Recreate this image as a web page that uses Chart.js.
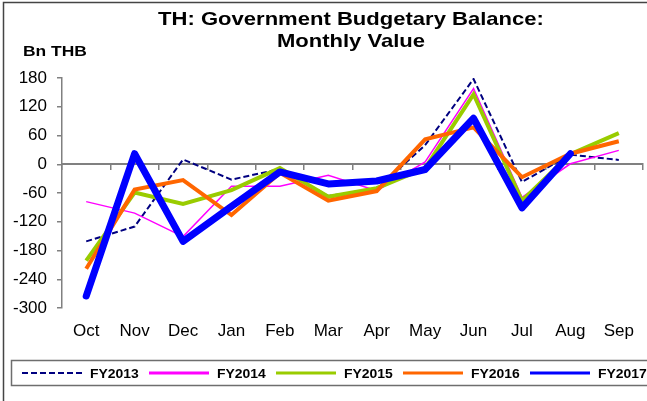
<!DOCTYPE html>
<html>
<head>
<meta charset="utf-8">
<script src="https://cdn.jsdelivr.net/npm/chart.js@4/dist/chart.umd.min.js"></script>
<style>
html,body{margin:0;padding:0;background:#fff;}
#wrap{width:647px;height:401px;position:relative;}
</style>
</head>
<body>
<div id="wrap"><canvas id="c" width="647" height="401"></canvas></div>
<script>
// months of the fiscal year (Oct..Sep)
const MONTHS = ['Oct','Nov','Dec','Jan','Feb','Mar','Apr','May','Jun','Jul','Aug','Sep'];
// Bn THB
const FY2013 = [-161,-130, 10,-32,-10,-66,-52, 40,178,-37, 20,  9];
const FY2014 = [ -78,-102,-151,-46,-46,-23,-55,  5,158,-69,  1, 29];
const FY2015 = [-201, -59,-83,-54, -8,-68,-50, -8,146,-76, 21, 65];
const FY2016 = [-218, -53,-33,-106,-18,-76,-56, 52, 77,-27, 22, 48];
const FY2017 = [-275,  22,-161,-88,-16,-41,-35,-11, 96,-91, 22,null];
const Y_MIN = -300, Y_MAX = 180, Y_STEP = 60;

const TITLE = ['TH: Government Budgetary Balance:','Monthly Value'];
const UNIT = 'Bn THB';
const FONT = 'Arial, "Liberation Sans", sans-serif';
const SX = 1.16; // the source picture is a bit wide

function stretchText(ctx, txt, x, y, align){
  ctx.save();
  ctx.translate(x, y);
  ctx.scale(SX, 1);
  ctx.textAlign = align;
  ctx.fillText(txt, 0, 0);
  ctx.restore();
}

const decor = {
  id:'decor',
  beforeDraw(chart){
    const ctx = chart.ctx;
    ctx.save();
    ctx.fillStyle = '#fff';
    ctx.fillRect(0,0,chart.width,chart.height);
    ctx.strokeStyle = '#444'; ctx.lineWidth = 1.5;
    ctx.beginPath();
    ctx.moveTo(3.5, chart.height+5); ctx.lineTo(3.5, 2.5); ctx.lineTo(chart.width+5, 2.5);
    ctx.stroke();
    ctx.fillStyle = '#000';
    ctx.textBaseline = 'alphabetic';
    ctx.font = 'bold 19px ' + FONT;
    stretchText(ctx, TITLE[0], 351, 25, 'center');
    stretchText(ctx, TITLE[1], 351, 47, 'center');
    ctx.font = 'bold 15px ' + FONT;
    stretchText(ctx, UNIT, 23, 56, 'left');
    ctx.restore();
  },
  afterDraw(chart){
    const ctx = chart.ctx;
    ctx.save();
    // legend box
    ctx.strokeStyle = '#6e6e6e'; ctx.lineWidth = 1.5;
    ctx.strokeRect(11.5, 360.5, chart.width + 10, 25);
    ctx.font = 'bold 12px ' + FONT;
    ctx.textBaseline = 'alphabetic';
    chart.data.datasets.forEach((ds, i) => {
      const x0 = 22 + i*127, y = 373;
      ctx.beginPath();
      ctx.strokeStyle = ds.borderColor;
      ctx.lineWidth = ds.legendWidth;
      ctx.setLineDash(ds.borderDash || []);
      ctx.moveTo(x0, y); ctx.lineTo(x0 + 60, y);
      ctx.stroke();
      ctx.setLineDash([]);
      ctx.fillStyle = '#000';
      stretchText(ctx, ds.label, x0 + 68, 377.5, 'left');
    });
    ctx.restore();
  }
};

const tickFont = {family: FONT, size: 17};

new Chart(document.getElementById('c'), {
  type: 'line',
  data: {
    labels: MONTHS,
    datasets: [
      {label:'FY2013', data:FY2013, borderColor:'#000080', borderWidth:2, borderDash:[6,3], legendWidth:2, order:4},
      {label:'FY2014', data:FY2014, borderColor:'#ff00ff', borderWidth:1.5, legendWidth:3, order:3},
      {label:'FY2015', data:FY2015, borderColor:'#99cc00', borderWidth:4, legendWidth:3, order:2},
      {label:'FY2016', data:FY2016, borderColor:'#ff6600', borderWidth:4, legendWidth:3, order:1},
      {label:'FY2017', data:FY2017, borderColor:'#0000ff', borderWidth:7, legendWidth:3, order:0,
       borderCapStyle:'round', borderJoinStyle:'round'}
    ]
  },
  options: {
    responsive: false,
    animation: false,
    devicePixelRatio: 1,
    spanGaps: false,
    elements: {point:{radius:0, hoverRadius:0}, line:{tension:0, fill:false}},
    layout: {padding:{top:78, left:0, right:2, bottom:0}},
    plugins: {legend:{display:false}, title:{display:false}, tooltip:{enabled:false}},
    scales: {
      x: {
        type:'category', position:'bottom', offset:true,
        grid:{display:false, drawTicks:false, offset:true},
        border:{display:false},
        ticks:{font:tickFont, color:'#000', padding:13, maxRotation:0, autoSkip:false},
        afterFit(s){ s.height = 93; }
      },
      x0: {
        type:'category', position:{y:0}, offset:true,
        grid:{offset:true, drawOnChartArea:false, drawTicks:true, tickLength:5, color:'#808080', lineWidth:1.5},
        border:{color:'#808080', width:2},
        ticks:{display:false}
      },
      y: {
        type:'linear', position:'left', min:Y_MIN, max:Y_MAX,
        grid:{drawOnChartArea:false, drawTicks:true, tickLength:5, color:'#808080', lineWidth:1.5},
        border:{color:'#808080', width:1.5},
        ticks:{stepSize:Y_STEP, font:tickFont, color:'#000', padding:10},
        afterFit(s){ s.width = 62; }
      }
    }
  },
  plugins: [decor]
});
</script>
</body>
</html>
